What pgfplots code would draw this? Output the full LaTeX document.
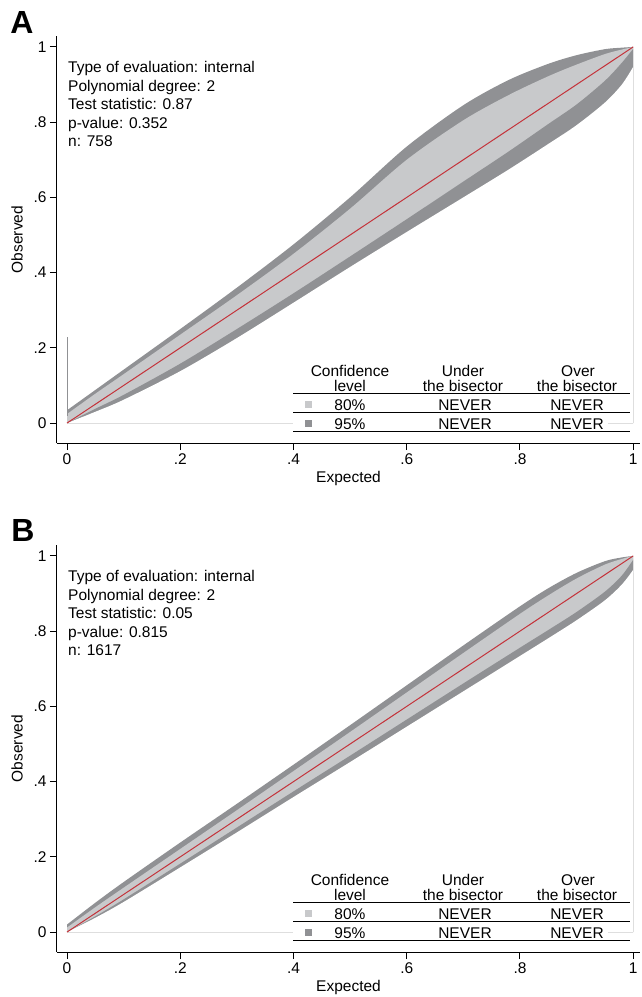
\documentclass[border=0pt]{standalone}
\usepackage{fontspec}
\setmainfont{Liberation Sans}
\usepackage{pgfplots}
\usepackage{pgfplotstable}
\pgfplotsset{compat=1.18}
\definecolor{dk}{RGB}{144,145,148}
\definecolor{lt}{RGB}{200,201,203}
\definecolor{rd}{RGB}{196,50,58}
\definecolor{rl}{RGB}{222,222,222}

\pgfplotstableread{
x      u95   u80   l80   l95
0      0.034 0.024 0.000 0.000
0.05   0.088 0.078 0.038 0.030
0.10   0.142 0.130 0.075 0.062
0.20   0.250 0.235 0.158 0.138
0.30   0.360 0.340 0.250 0.226
0.40   0.475 0.450 0.345 0.320
0.50   0.600 0.570 0.443 0.415
0.60   0.735 0.700 0.542 0.508
0.70   0.845 0.805 0.642 0.600
0.78   0.912 0.872 0.722 0.674
0.85   0.955 0.922 0.795 0.742
0.90   0.978 0.953 0.847 0.792
0.95   0.994 0.981 0.910 0.852
0.98   0.998 0.993 0.958 0.900
1.0    1.000 1.000 0.995 0.947
}\dataA

\pgfplotstableread{
x      u95   u80   l80   l95
0      0.020 0.012 0.000 0.000
0.05   0.078 0.066 0.042 0.038
0.10   0.133 0.118 0.087 0.080
0.20   0.238 0.221 0.182 0.172
0.30   0.341 0.324 0.278 0.265
0.40   0.445 0.428 0.374 0.359
0.50   0.550 0.532 0.469 0.452
0.60   0.656 0.637 0.565 0.546
0.70   0.762 0.742 0.661 0.640
0.80   0.866 0.846 0.756 0.734
0.85   0.914 0.895 0.803 0.781
0.90   0.955 0.940 0.851 0.829
0.95   0.986 0.977 0.905 0.882
0.98   0.996 0.992 0.948 0.924
1.0    1.000 1.000 0.990 0.963
}\dataB

\newcommand{\fs}{\fontsize{15.5}{16}\selectfont}

\pgfplotsset{
  calib/.style={
    scale only axis, width=583pt, height=407pt,
    xmin=-0.0177, xmax=1.012, ymin=-0.053, ymax=1.029,
    axis lines=left, axis line style={-, line width=1pt},
    xtick={0,0.2,0.4,0.6,0.8,1}, xticklabels={0,.2,.4,.6,.8,1},
    ytick={0,0.2,0.4,0.6,0.8,1}, yticklabels={0,.2,.4,.6,.8,1},
    tick align=outside, major tick length=7pt,
    tick style={black, line width=1pt},
    ticklabel style={font=\fs},
    label style={font=\fs},
    xlabel={Expected}, ylabel={Observed},
    ylabel style={yshift=4pt},
  }
}

\newcommand{\infoblock}[4]{%
  \node[anchor=base west, inner sep=0, font=\fs] at (68pt,{-(72.7+#1)*1pt}) {Type of evaluation: internal};
  \node[anchor=base west, inner sep=0, font=\fs] at (68pt,{-(91.2+#1)*1pt}) {Polynomial degree: 2};
  \node[anchor=base west, inner sep=0, font=\fs] at (68pt,{-(109.7+#1)*1pt}) {Test statistic: #2};
  \node[anchor=base west, inner sep=0, font=\fs] at (68pt,{-(128.2+#1)*1pt}) {p-value: #3};
  \node[anchor=base west, inner sep=0, font=\fs] at (68pt,{-(146.7+#1)*1pt}) {n: #4};
}

\newcommand{\legtable}[1]{%
  \fill[white] (293pt,{-(360+#1)*1pt}) rectangle (608pt,{-(432+#1)*1pt});
  \node[anchor=base, inner sep=0, font=\fs] at (350pt,{-(376+#1)*1pt}) {Confidence};
  \node[anchor=base, inner sep=0, font=\fs] at (350pt,{-(391.5+#1)*1pt}) {level};
  \node[anchor=base, inner sep=0, font=\fs] at (463pt,{-(376+#1)*1pt}) {Under};
  \node[anchor=base, inner sep=0, font=\fs] at (463pt,{-(391.5+#1)*1pt}) {the bisector};
  \node[anchor=base, inner sep=0, font=\fs] at (578pt,{-(376+#1)*1pt}) {Over};
  \node[anchor=base, inner sep=0, font=\fs] at (577pt,{-(391.5+#1)*1pt}) {the bisector};
  \draw[line width=1pt] (293pt,{-(393.3+#1)*1pt}) -- (630pt,{-(393.3+#1)*1pt});
  \draw[line width=1pt] (293pt,{-(412.7+#1)*1pt}) -- (630pt,{-(412.7+#1)*1pt});
  \draw[line width=1pt] (293pt,{-(431.7+#1)*1pt}) -- (630pt,{-(431.7+#1)*1pt});
  \fill[lt] (304.5pt,{-(400.5+#1)*1pt}) rectangle (312pt,{-(408+#1)*1pt});
  \fill[dk] (304.5pt,{-(419.5+#1)*1pt}) rectangle (312pt,{-(427+#1)*1pt});
  \node[anchor=base, inner sep=0, font=\fs] at (350pt,{-(410+#1)*1pt}) {80\%};
  \node[anchor=base, inner sep=0, font=\fs] at (350pt,{-(429+#1)*1pt}) {95\%};
  \node[anchor=base, inner sep=0, font=\fs] at (465pt,{-(410+#1)*1pt}) {NEVER};
  \node[anchor=base, inner sep=0, font=\fs] at (577pt,{-(410+#1)*1pt}) {NEVER};
  \node[anchor=base, inner sep=0, font=\fs] at (465pt,{-(429+#1)*1pt}) {NEVER};
  \node[anchor=base, inner sep=0, font=\fs] at (577pt,{-(429+#1)*1pt}) {NEVER};
}

\begin{document}
\begin{tikzpicture}
\useasboundingbox (0pt,0pt) rectangle (642pt,-997pt);

\begin{axis}[calib, at={(57pt,-443pt)}, anchor=south west]
  \addplot[fill=dk, draw=none, smooth] table[x=x,y=u95] {\dataA} \closedcycle;
  \addplot[fill=lt, draw=none, smooth] table[x=x,y=u80] {\dataA} \closedcycle;
  \addplot[fill=dk, draw=none, smooth] table[x=x,y=l80] {\dataA} \closedcycle;
  \addplot[fill=white, draw=none, smooth] table[x=x,y=l95] {\dataA} \closedcycle;
  \addplot[rl, line width=0.8pt] coordinates {(0,0) (1,0)};
  \addplot[rl, line width=0.8pt] coordinates {(1,0) (1,0.94)};
  \addplot[dk, line width=1.3pt] coordinates {(0.0005,0.02) (0.0005,0.229)};
  \addplot[rd, line width=1pt] coordinates {(0,0) (1,1)};
\end{axis}
\infoblock{0}{0.87}{0.352}{758}
\legtable{0}
\node[font=\bfseries\fontsize{32}{32}\selectfont, inner sep=0] at (22pt,-22pt) {A};

\begin{axis}[calib, at={(57pt,-952pt)}, anchor=south west]
  \addplot[fill=dk, draw=none, smooth] table[x=x,y=u95] {\dataB} \closedcycle;
  \addplot[fill=lt, draw=none, smooth] table[x=x,y=u80] {\dataB} \closedcycle;
  \addplot[fill=dk, draw=none, smooth] table[x=x,y=l80] {\dataB} \closedcycle;
  \addplot[fill=white, draw=none, smooth] table[x=x,y=l95] {\dataB} \closedcycle;
  \addplot[rl, line width=0.8pt] coordinates {(0,0) (1,0)};
  \addplot[rl, line width=0.8pt] coordinates {(1,0) (1,0.955)};
  \addplot[rd, line width=1pt] coordinates {(0,0) (1,1)};
\end{axis}
\infoblock{509}{0.05}{0.815}{1617}
\legtable{509}
\node[font=\bfseries\fontsize{32}{32}\selectfont, inner sep=0] at (23pt,-530pt) {B};
\end{tikzpicture}
\end{document}
